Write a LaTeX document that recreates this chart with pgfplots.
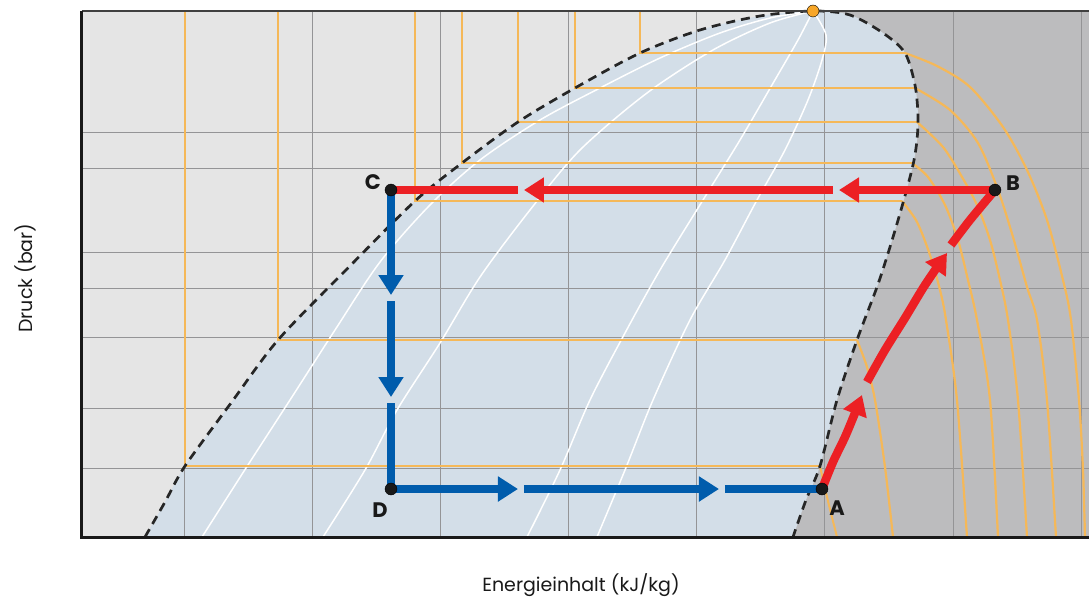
\documentclass[border=0pt]{standalone}
\usepackage{pgfplots}
\pgfplotsset{compat=1.18}
\usepackage{fontspec}
\setmainfont{Poppins}
\usetikzlibrary{arrows.meta}
\definecolor{bgL}{RGB}{229,229,229}
\definecolor{bgDome}{RGB}{211,222,232}
\definecolor{bgR}{RGB}{188,188,190}
\definecolor{gridc}{RGB}{148,148,150}
\definecolor{iso}{RGB}{245,184,88}
\definecolor{redp}{RGB}{236,32,36}
\definecolor{bluep}{RGB}{0,92,172}
\definecolor{crit}{RGB}{247,166,40}
\definecolor{txt}{RGB}{25,25,25}
\tikzset{ah/.style={-{Triangle[length=20bp,width=24bp]}}}
\begin{document}
\begin{tikzpicture}
\useasboundingbox (-82bp,-62bp) rectangle (1007bp,537bp);
\begin{axis}[at={(0,0)}, anchor=south west, width=1007bp, height=526bp, scale only axis,
  xmin=82, xmax=1089, ymin=11, ymax=537, y dir=reverse,
  axis line style={draw=none}, ticks=none, clip=false,
  axis background/.style={fill=bgL}]
% superheated region
\addplot[draw=none, fill=bgR] coordinates {(790,11) (1089,11) (1089,537) (790,537)};
% two-phase dome
\addplot[draw=none, fill=bgDome, smooth] coordinates {
 (145,537) (165,502) (185,466) (231,403) (278,340) (346,270) (415,201) (462,163) (518,122) (575,88) (640,53) (700,30) (760,16) (813,11)
 (850,15) (883,33) (905,53) (915,85) (918,115) (917,140) (913,165) (903,203) (890,247) (877,287) (857,340) (837,400) (820,466) (806,500) (793,537)};
% grid
\pgfplotsinvokeforeach{185,313,441,569,697,825,953,1081}{
 \addplot[gridc, line width=1bp] coordinates {(#1,11) (#1,537)};}
\pgfplotsinvokeforeach{132,168,252,288,337,408,468}{
 \addplot[gridc, line width=1bp] coordinates {(82,#1) (1089,#1)};}
% quality lines
\addplot[white, line width=1.5bp, smooth] coordinates {(202,537) (246,468) (290,400) (335,330) (380,262) (430,205) (480,160) (540,120) (600,88) (660,58) (720,33) (770,18) (813,11)};
\addplot[white, line width=1.5bp, smooth] coordinates {(323,537) (365,470) (397,410) (440,343) (480,277) (530,210) (580,150) (647,93) (713,50) (770,23) (813,11)};
\addplot[white, line width=1.5bp, smooth] coordinates {(527,537) (560,470) (590,400) (625,333) (660,270) (703,200) (740,140) (772,85) (798,40) (813,11)};
\addplot[white, line width=1.5bp, smooth] coordinates {(597,537) (625,470) (653,400) (690,320) (725,260) (757,200) (785,150) (808,100) (822,60) (826,35) (813,11)};
% isotherms: liquid + two-phase parts
\addplot[iso, line width=2.6bp] coordinates {(640,11) (640,53) (905,53)};
\addplot[iso, line width=2.6bp] coordinates {(575,11) (575,88) (915,88)};
\addplot[iso, line width=2.6bp] coordinates {(518,11) (518,122) (917,122)};
\addplot[iso, line width=2.6bp] coordinates {(462,11) (462,163) (912,163)};
\addplot[iso, line width=2.6bp] coordinates {(415,11) (415,201) (902,201)};
\addplot[iso, line width=2.4bp] coordinates {(278,11) (278,340) (857,340)};
\addplot[iso, line width=2bp] coordinates {(185,11) (185,466) (820,466)};
% isotherms: vapour parts
\addplot[iso, line width=2.2bp, smooth] coordinates {(905,53) (937,66) (970,87) (1003,127) (1027,170) (1047,220) (1063,280) (1071,320) (1079,400) (1083,470) (1085,537)};
\addplot[iso, line width=2.2bp, smooth] coordinates {(915,88) (950,110) (978,143) (998,190) (1013,237) (1027,287) (1037,320) (1047,400) (1056,537)};
\addplot[iso, line width=2.2bp, smooth] coordinates {(917,122) (943,147) (962,177) (977,205) (990,240) (1000,280) (1008,320) (1018,400) (1027,537)};
\addplot[iso, line width=2.2bp, smooth] coordinates {(912,163) (928,177) (945,205) (958,240) (968,280) (977,320) (990,400) (998,537)};
\addplot[iso, line width=2.2bp, smooth] coordinates {(902,201) (917,222) (930,255) (940,290) (946,320) (957,400) (967,537)};
\addplot[iso, line width=2.2bp, smooth] coordinates {(857,340) (867,367) (875,400) (885,467) (893,537)};
\addplot[iso, line width=2bp, smooth] coordinates {(820,466) (827,497) (837,537)};
% saturation curve
\addplot[black!85, line width=2.7bp, dash pattern=on 9bp off 6bp, smooth] coordinates {
 (145,537) (165,502) (185,466) (231,403) (278,340) (346,270) (415,201) (462,163) (518,122) (575,88) (640,53) (700,30) (760,16) (813,11)
 (850,15) (883,33) (905,53) (915,85) (918,115) (917,140) (913,165) (903,203) (890,247) (877,287) (857,340) (837,400) (820,466) (806,500) (793,537)};
% frame
\draw[line width=2.5bp, black!75] (axis cs:82,11) -- (axis cs:1089,11);
\draw[line width=3bp, black!90, line join=miter] (axis cs:82,11) -- (axis cs:82,537) -- (axis cs:1089,537);
% process: blue
\addplot[bluep, line width=8.5bp, ah] coordinates {(391,190) (391,295)};
\addplot[bluep, line width=8.5bp, ah] coordinates {(391,301) (391,397)};
\addplot[bluep, line width=8.5bp] coordinates {(391,403) (391,489)};
\addplot[bluep, line width=8.5bp, ah] coordinates {(391,489) (518,489)};
\addplot[bluep, line width=8.5bp, ah] coordinates {(524,489) (719,489)};
\addplot[bluep, line width=8.5bp] coordinates {(725,489) (822,489)};
% process: red
\addplot[redp, line width=8.5bp, ah] coordinates {(995,190) (839,190)};
\addplot[redp, line width=8.5bp, ah] coordinates {(833,190) (524,190)};
\addplot[redp, line width=8.5bp] coordinates {(518,190) (391,190)};
\addplot[redp, line width=8.5bp, smooth, ah] coordinates {(822,489) (833,462) (845,437) (855,413) (862,395)};
\addplot[redp, line width=8.5bp, smooth, ah] coordinates {(867,382) (885,350) (905,318) (925,285) (947,253)};
\addplot[redp, line width=8.5bp, smooth] coordinates {(951,245) (970,220) (995,190)};
% points
\addplot[only marks, mark=*, mark size=6bp, mark options={fill=black!90, draw=none}] coordinates {(822,489) (995,190) (391,190) (391,489)};
\addplot[only marks, mark=*, mark size=6bp, mark options={fill=crit, draw=none}] coordinates {(813,11)};
% labels
\node[font=\bfseries\fontsize{21bp}{21bp}\selectfont, text=txt] at (axis cs:373,182) {C};
\node[font=\bfseries\fontsize{21bp}{21bp}\selectfont, text=txt] at (axis cs:1013,183) {B};
\node[font=\bfseries\fontsize{21bp}{21bp}\selectfont, text=txt] at (axis cs:380,510) {D};
\node[font=\bfseries\fontsize{21bp}{21bp}\selectfont, text=txt] at (axis cs:837,508) {A};
\node[font=\fontsize{19bp}{19bp}\selectfont, text=txt] at (axis cs:581,585) {Energieinhalt (kJ/kg)};
\node[rotate=90, font=\fontsize{19bp}{19bp}\selectfont, text=txt] at (axis cs:25,278) {Druck (bar)};
\end{axis}
\end{tikzpicture}
\end{document}
